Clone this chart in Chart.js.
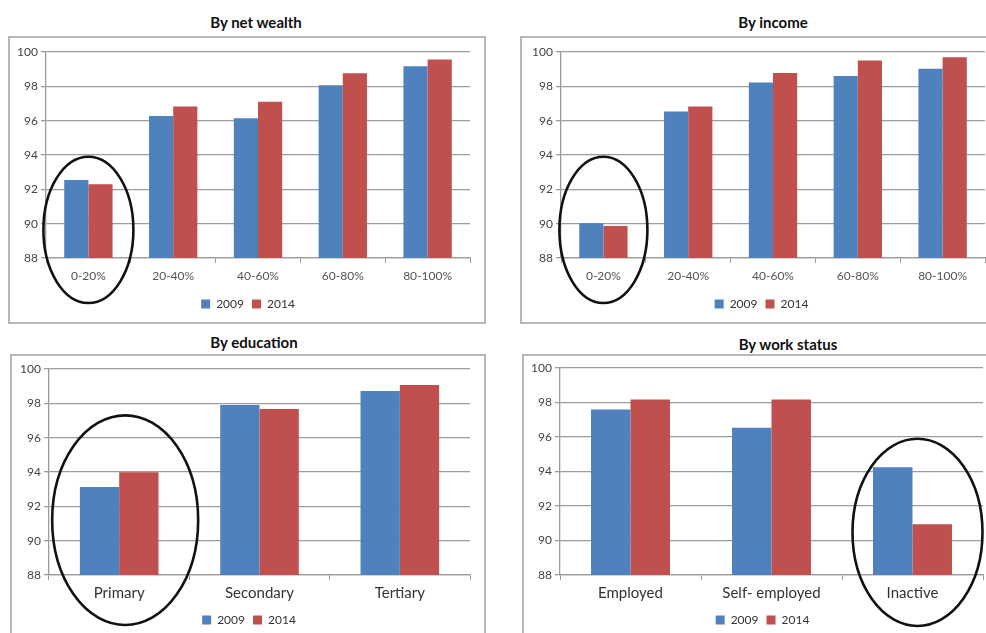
<!DOCTYPE html>
<html>
<head>
<meta charset="utf-8">
<script src="https://cdn.jsdelivr.net/npm/chart.js@4.4.0/dist/chart.umd.min.js"></script>
<style>
  body { margin: 0; background: #fff; width: 986px; height: 633px; overflow: hidden; position: relative; font-family: Lato, "Open Sans", sans-serif; }
  .box { position: absolute; border: 2px solid #b8b8b8; box-sizing: border-box; }
  .title { position: absolute; font-weight: bold; font-size: 15px; color: #111; transform: translate(-50%, -50%); white-space: nowrap; }
  canvas { position: absolute; }
</style>
</head>
<body>
<div class="box" style="left:8px;top:36px;width:478px;height:288px"></div>
<div class="box" style="left:520px;top:36px;width:480px;height:288px"></div>
<div class="box" style="left:10px;top:354px;width:476px;height:300px"></div>
<div class="box" style="left:522px;top:354px;width:480px;height:300px"></div>

<div class="title" style="left:256px;top:22px">By net wealth</div>
<div class="title" style="left:773px;top:22px">By income</div>
<div class="title" style="left:254px;top:342px">By education</div>
<div class="title" style="left:788px;top:344px">By work status</div>

<canvas id="cWealth" width="477" height="287" style="left:8px;top:36px"></canvas>
<canvas id="cIncome" width="466" height="287" style="left:520px;top:36px"></canvas>
<canvas id="cEducation" width="476" height="284" style="left:10px;top:354px"></canvas>
<canvas id="cWork" width="464" height="284" style="left:522px;top:354px"></canvas>

<script>
// Share of households (%), 2009 vs 2014, by group
const seriesNames = ['2009', '2014'];
const yTicks = [88, 90, 92, 94, 96, 98, 100];

const wealthGroups = ['0-20%', '20-40%', '40-60%', '60-80%', '80-100%'];
const wealth2009 = [92.55, 96.27, 96.14, 98.06, 99.17];
const wealth2014 = [92.30, 96.82, 97.10, 98.76, 99.57];

const incomeGroups = ['0-20%', '20-40%', '40-60%', '60-80%', '80-100%'];
const income2009 = [90.03, 96.54, 98.22, 98.60, 99.03];
const income2014 = [89.87, 96.83, 98.77, 99.50, 99.70];

const educationGroups = ['Primary', 'Secondary', 'Tertiary'];
const education2009 = [93.12, 97.90, 98.72];
const education2014 = [93.99, 97.67, 99.07];

const workGroups = ['Employed', 'Self- employed', 'Inactive'];
const work2009 = [97.59, 96.53, 94.24];
const work2014 = [98.17, 98.17, 90.94];

const BLUE = '#4F81BD';
const RED = '#C0504D';
const GRID = '#9c9c9c';
const FONT = 'Lato, "Open Sans", sans-serif';

// Hand-drawn style ring around the highlighted category
const ringPlugin = {
  id: 'ring',
  afterDraw(chart, args, opts) {
    if (!opts || opts.index === undefined || opts.index === null) return;
    const ctx = chart.ctx;
    const x = chart.scales.x.getPixelForValue(opts.index) + (opts.dx || 0);
    const yTop = chart.scales.y.getPixelForValue(opts.topValue);
    const yBot = chart.chartArea.bottom + opts.below;
    ctx.save();
    ctx.beginPath();
    ctx.ellipse(x, (yTop + yBot) / 2, opts.rx, (yBot - yTop) / 2, opts.tilt || 0, 0, Math.PI * 2);
    ctx.lineWidth = 2.6;
    ctx.strokeStyle = '#111';
    ctx.stroke();
    ctx.restore();
  }
};

// Nudges the legend sideways so it sits centred under the plot area
const legendShift = {
  id: 'legendShift',
  afterLayout(chart, args, opts) {
    const dx = (opts && opts.dx) || 0;
    if (chart.legend && dx) {
      chart.legend.left += dx;
      chart.legend.right += dx;
    }
  }
};
Chart.register(ringPlugin, legendShift);

function makeChart(id, groups, v2009, v2014, cfg) {
  const yMin = yTicks[0];
  const yMax = yTicks[yTicks.length - 1];
  return new Chart(document.getElementById(id), {
    type: 'bar',
    data: {
      labels: groups,
      datasets: [
        { label: seriesNames[0], data: v2009, backgroundColor: BLUE, borderWidth: 0 },
        { label: seriesNames[1], data: v2014, backgroundColor: RED, borderWidth: 0 }
      ]
    },
    options: {
      responsive: false,
      animation: false,
      devicePixelRatio: 1,
      layout: { padding: cfg.padding },
      datasets: { bar: { categoryPercentage: cfg.catPct, barPercentage: 1 } },
      scales: {
        x: {
          afterFit: s => { s.height = cfg.xHeight; },
          grid: { drawOnChartArea: false, drawTicks: true, tickLength: 5, color: GRID, offset: true },
          border: { color: GRID, width: 1.3 },
          ticks: { color: cfg.catColor, font: { family: FONT, size: cfg.catSize }, padding: cfg.catPad, maxRotation: 0 }
        },
        y: {
          min: yMin, max: yMax,
          afterFit: s => { s.width = cfg.yWidth; },
          afterBuildTicks: s => { s.ticks = yTicks.map(v => ({ value: v })); },
          grid: { color: GRID, lineWidth: 1.3, tickLength: 5 },
          border: { color: GRID, width: 1.3 },
          ticks: { color: '#444', font: { family: FONT, size: 12 }, padding: 3 }
        }
      },
      plugins: {
        title: { display: false },
        tooltip: { enabled: false },
        legend: {
          position: 'bottom',
          labels: { boxWidth: 9, boxHeight: 9, padding: 8, color: '#333', font: { family: FONT, size: 12 } }
        },
        legendShift: { dx: cfg.legendDx },
        ring: cfg.ring
      }
    }
  });
}

makeChart('cWealth', wealthGroups, wealth2009, wealth2014, {
  padding: { top: 16, right: 15, left: 0, bottom: 3 },
  yWidth: 38, xHeight: 32, catPct: 0.57, catSize: 12, catColor: '#555', catPad: 6, legendDx: 9,
  ring: { index: 0, topValue: 93.9, below: 45, rx: 45, dx: 0 }
});

makeChart('cIncome', incomeGroups, income2009, income2014, {
  padding: { top: 16, right: 1, left: 0, bottom: 3 },
  yWidth: 41, xHeight: 32, catPct: 0.57, catSize: 12, catColor: '#555', catPad: 6, legendDx: 9,
  ring: { index: 0, topValue: 93.9, below: 45, rx: 44, dx: 0 }
});

makeChart('cEducation', educationGroups, education2009, education2014, {
  padding: { top: 15, right: 16, left: 0, bottom: 2 },
  yWidth: 39, xHeight: 31, catPct: 0.56, catSize: 15, catColor: '#333', catPad: 4, legendDx: 9,
  ring: { index: 0, topValue: 97.3, below: 50, rx: 73, dx: 6 }
});

makeChart('cWork', workGroups, work2009, work2014, {
  padding: { top: 14, right: 3, left: 0, bottom: 2 },
  yWidth: 38, xHeight: 31, catPct: 0.56, catSize: 15, catColor: '#333', catPad: 4, legendDx: 10,
  ring: { index: 2, topValue: 95.9, below: 51, rx: 65, dx: 5 }
});
</script>
</body>
</html>
